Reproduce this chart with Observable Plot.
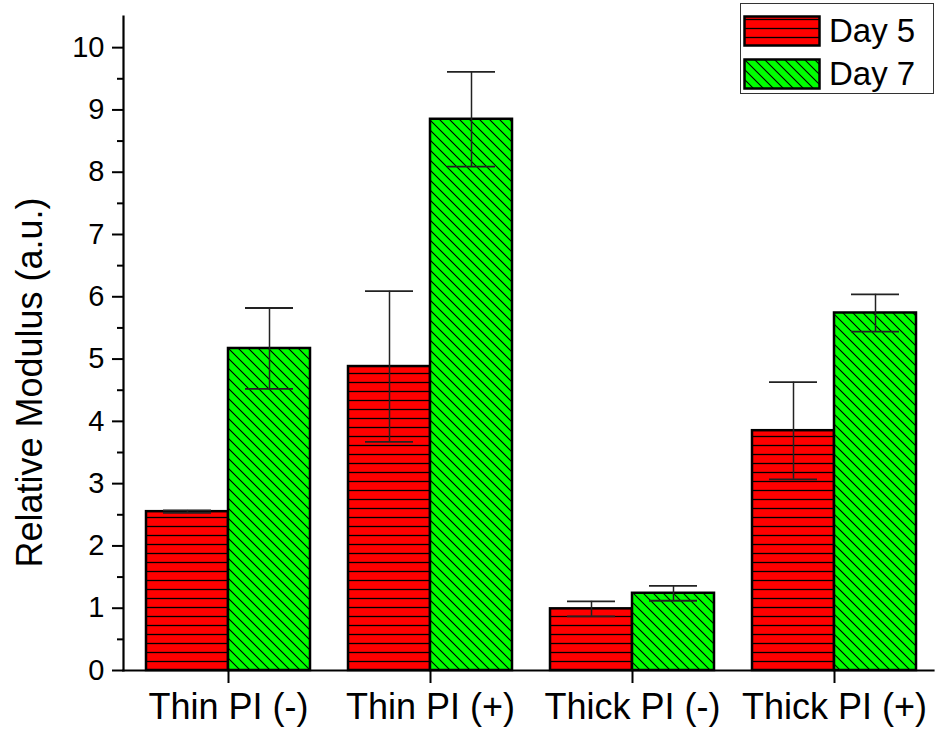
<!DOCTYPE html>
<html>
<head>
<meta charset="utf-8">
<script src="https://cdn.jsdelivr.net/npm/d3@7"></script>
<script src="https://cdn.jsdelivr.net/npm/@observablehq/plot@0.6"></script>
<style>
  html, body { margin: 0; padding: 0; background: white; }
  #wrap { position: relative; width: 935px; height: 734px; }
  #legend { position: absolute; left: 740px; top: 3px; width: 192px; height: 89px; border: 1px solid #333; background: white; font-family: "Liberation Sans", Arial, sans-serif; }
  .row { position: absolute; left: 2px; height: 32px; display: flex; align-items: center; }
  .row svg { display: block; }
  .row span { font-size: 33px; margin-left: 8px; color: #000; }
</style>
</head>
<body>
<svg width="0" height="0" style="position:absolute">
  <defs>
    <pattern id="redHatch" patternUnits="userSpaceOnUse" width="10" height="9">
      <rect width="10" height="9" fill="#ff0000"></rect>
      <line x1="0" y1="4.5" x2="10" y2="4.5" stroke="#000" stroke-width="1.3"></line>
    </pattern>
    <pattern id="greenHatch" patternUnits="userSpaceOnUse" width="10" height="10">
      <rect width="10" height="10" fill="#00ff00"></rect>
      <path d="M0,0 L10,10 M-1,9 L1,11 M9,-1 L11,1" stroke="#000" stroke-width="1.1"></path>
    </pattern>
  </defs>
</svg>
<div id="wrap">
  <div id="chart"></div>
  <div id="legend">
    <div class="row" style="top:11px"><svg width="78" height="32"><rect x="1.5" y="1.5" width="75" height="29" fill="url(#redHatch)" stroke="#000" stroke-width="2.5"></rect></svg><span>Day 5</span></div>
    <div class="row" style="top:54px"><svg width="78" height="32"><rect x="1.5" y="1.5" width="75" height="29" fill="url(#greenHatch)" stroke="#000" stroke-width="2.5"></rect></svg><span>Day 7</span></div>
  </div>
</div>
<script>
const categories = ["Thin PI (-)", "Thin PI (+)", "Thick PI (-)", "Thick PI (+)"];
const day5 = [2.55, 4.88, 0.99, 3.85];
const day5Err = [0.02, 1.21, 0.12, 0.78];
const day7 = [5.17, 8.85, 1.24, 5.74];
const day7Err = [0.65, 0.76, 0.12, 0.30];
const yTicks = [0, 1, 2, 3, 4, 5, 6, 7, 8, 9, 10];
const yMinorTicks = [0.5, 1.5, 2.5, 3.5, 4.5, 5.5, 6.5, 7.5, 8.5, 9.5];
const yLabel = "Relative Modulus (a.u.)";

const rows5 = categories.map((c, i) => ({cat: c, value: day5[i], lo: day5[i] - day5Err[i], hi: day5[i] + day5Err[i]}));
const rows7 = categories.map((c, i) => ({cat: c, value: day7[i], lo: day7[i] - day7Err[i], hi: day7[i] + day7Err[i]}));

const errStroke = "#222";
const chart = Plot.plot({
  width: 935,
  height: 734,
  marginLeft: 123,
  marginRight: 2,
  marginTop: 16,
  marginBottom: 64,
  x: {domain: categories, paddingInner: 0.19, paddingOuter: 0.095, align: 0.57, axis: null},
  y: {domain: [0, 10.5], axis: null},
  style: {fontFamily: "'Liberation Sans', Arial, sans-serif", color: "#000", background: "white"},
  marks: [
    Plot.barY(rows5, {x: "cat", y: "value", fill: "url(#redHatch)", stroke: "#000", strokeWidth: 2.5, insetRight: 82}),
    Plot.barY(rows7, {x: "cat", y: "value", fill: "url(#greenHatch)", stroke: "#000", strokeWidth: 2.5, insetLeft: 82}),
    Plot.ruleX(rows5, {x: "cat", y1: "lo", y2: "hi", dx: -41, stroke: errStroke, strokeWidth: 1.5}),
    Plot.ruleX(rows7, {x: "cat", y1: "lo", y2: "hi", dx: 41, stroke: errStroke, strokeWidth: 1.5}),
    Plot.tickY(rows5, {x: "cat", y: "hi", insetLeft: 17, insetRight: 99, stroke: errStroke, strokeWidth: 1.8}),
    Plot.tickY(rows5, {x: "cat", y: "lo", insetLeft: 17, insetRight: 99, stroke: errStroke, strokeWidth: 1.8}),
    Plot.tickY(rows7, {x: "cat", y: "hi", insetLeft: 99, insetRight: 17, stroke: errStroke, strokeWidth: 1.8}),
    Plot.tickY(rows7, {x: "cat", y: "lo", insetLeft: 99, insetRight: 17, stroke: errStroke, strokeWidth: 1.8}),
    Plot.frame({anchor: "left", strokeWidth: 2.2}),
    Plot.frame({anchor: "bottom", strokeWidth: 2.2}),
    Plot.axisY(yTicks, {tickSize: 11, tickPadding: 8, fontSize: 29, strokeWidth: 2, tickFormat: d => String(d), label: null}),
    Plot.axisY(yMinorTicks, {tickSize: 6, tickFormat: () => "", strokeWidth: 2, label: null}),
    Plot.axisX({tickSize: 13, tickPadding: 10, fontSize: 36, strokeWidth: 2, label: null}),
    Plot.text([yLabel], {frameAnchor: "left", textAnchor: "middle", rotate: -90, dx: -93, dy: 39, fontSize: 36, fill: "#000"})
  ]
});
document.getElementById("chart").appendChild(chart);
</script>
</body>
</html>
